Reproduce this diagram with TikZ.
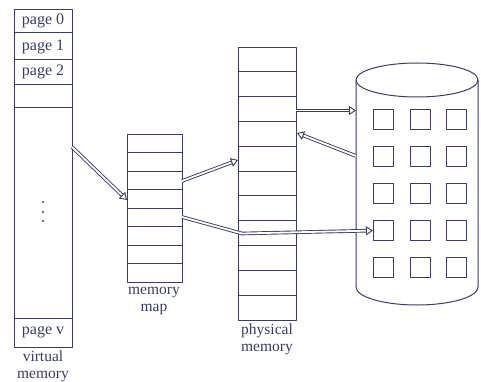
\documentclass[tikz,border=0pt]{standalone}
\usepackage{fontspec}
\setmainfont{Liberation Serif}
\usetikzlibrary{arrows.meta}
\definecolor{ink}{HTML}{373C6A}
\begin{document}
\begin{tikzpicture}[x=1pt,y=-1pt,line join=round,
  box/.style={draw=ink,line width=1pt,minimum width=#1,inner sep=0pt,anchor=north west},
  lbl/.style={text=ink,font=\fontsize{16}{16}\selectfont,inner sep=0pt},
  cap2/.style={text=ink,font=\fontsize{15.5}{17}\selectfont,inner sep=0pt,align=center},
  row/.style={draw=ink,line width=1pt},
  sq/.style={draw=ink,line width=1.1pt,minimum width=20pt,minimum height=20pt,inner sep=0pt,anchor=north west},
  dbl/.style={draw=ink,double=white,double distance=1.8pt,line width=0.9pt,-{Triangle[open,length=7pt,width=9pt,line width=0.9pt]}}]
\useasboundingbox (0,0) rectangle (481,382);
% virtual memory
\node[box=58pt,minimum height=338pt] (vm) at (14,9) {};
\foreach \y in {33,60,85,108,318} \draw[row] (14,\y) -- (72,\y);
\node[lbl] (p0) at (43,21) {page 0};
\node[lbl] (p1) at (43,47) {page 1};
\node[lbl] (p2) at (43,72) {page 2};
\node[lbl] (pv) at (43,332) {page v};
\node[cap2] (vml) at (43,366) {virtual\\memory};
\foreach \y/\n in {202/a,212/b,221/c} \fill[ink] (43,\y) circle (1.2pt);
% memory map
\node[box=55pt,minimum height=148pt] (mm) at (127,134) {};
\foreach \i in {1,...,7} \draw[row] (127,134+18.5*\i) -- (182,134+18.5*\i);
\node[cap2] (mml) at (154,301) {memory\\map};
% physical memory
\node[box=58pt,minimum height=273pt] (pm) at (238,47) {};
\foreach \i in {1,...,10} \draw[row] (238,47+24.8*\i) -- (296,47+24.8*\i);
\node[cap2] (pml) at (267,339) {physical\\memory};
% disk
\draw[ink,line width=1pt] (417,80) ellipse (61pt and 17pt);
\draw[ink,line width=1pt] (356,80) -- (356,287) arc[start angle=180,end angle=360,x radius=61pt,y radius=18pt] -- (478,80);
\foreach \c/\x in {1/373,2/409.5,3/446}
  \foreach \r/\y in {1/109,2/146,3/183,4/220,5/257}
    \node[sq] (s\r\c) at (\x,\y) {};
% arrows
\coordinate (a1s) at (72,147);
\coordinate (a1e) at (127,200);
\draw[dbl] (a1s) -- (a1e);
\coordinate (a2s) at (182,181);
\coordinate (a2e) at (238,160);
\draw[dbl] (a2s) -- (a2e);
\coordinate (a3s) at (182,217);
\coordinate (a3m) at (242,233.5);
\draw[dbl] (a3s) -- (a3m) -- (s41.west);
\coordinate (a4s) at (296,110.5);
\coordinate (a4e) at (356,110.5);
\draw[dbl] (a4s) -- (a4e);
\coordinate (a5s) at (356,156);
\coordinate (a5e) at (297,133);
\draw[dbl] (a5s) -- (a5e);
\end{tikzpicture}
\end{document}
